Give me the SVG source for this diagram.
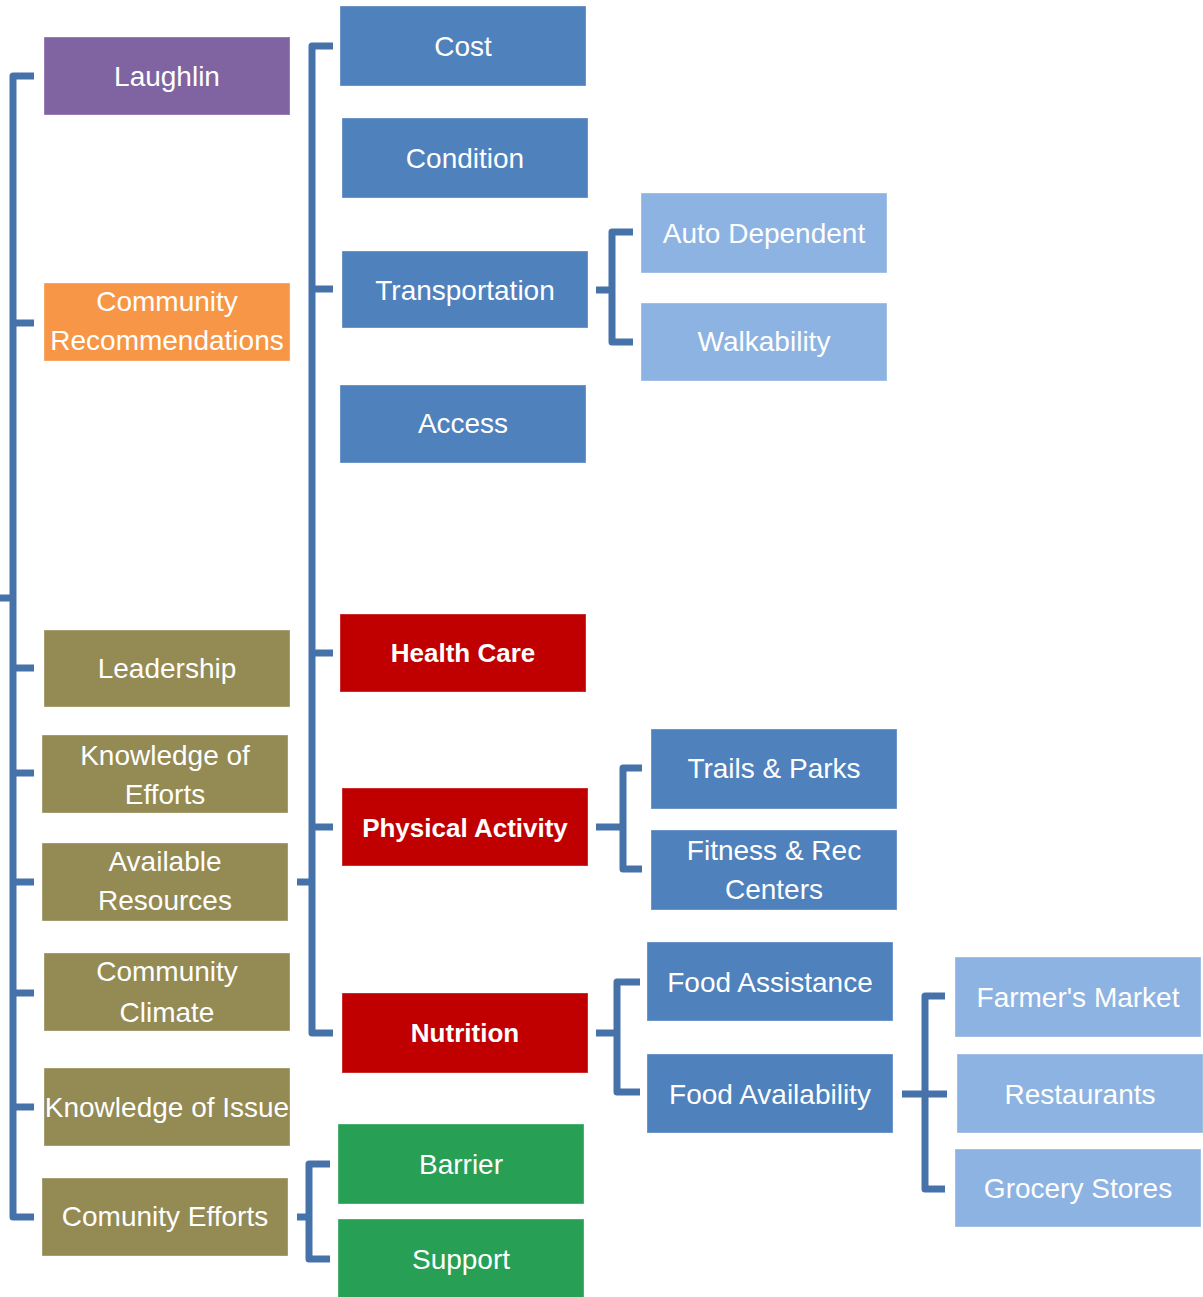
<svg xmlns="http://www.w3.org/2000/svg" width="1203" height="1297" viewBox="0 0 1203 1297">
<style>
  .box{stroke:#ffffff;stroke-opacity:0.35;stroke-width:1}
  .purple{fill:#8064A2}
  .orange{fill:#F79646}
  .olive{fill:#948A54}
  .blue{fill:#4F81BD}
  .light{fill:#8DB3E2}
  .red{fill:#C00000}
  .green{fill:#27A055}
  text{font-family:"Liberation Sans",Arial,sans-serif;font-size:28px;fill:#ffffff;text-anchor:middle}
  text.b{font-weight:bold;font-size:26px}
  .conn path{fill:none;stroke:#4672AA;stroke-width:7;stroke-linejoin:round}
</style>
<rect width="1203" height="1297" fill="#ffffff"/>
<g class="conn" id="connectors">
  <path d="M34,76 H13 V1217 H34"/>
  <path d="M13,323 H34 M13,668 H34 M13,773 H34 M13,882 H34 M13,993 H34 M13,1107 H34 M0,598 H13"/>
  <path d="M333,46 H312 V1033 H333"/>
  <path d="M312,289 H333 M312,653 H333 M312,827 H333 M297,882 H312"/>
  <path d="M596,290 H612 M633,232 H612 V342 H633"/>
  <path d="M596,827 H623 M642,768 H623 V869 H642"/>
  <path d="M596,1033 H617 M640,982 H617 V1092 H640"/>
  <path d="M902,1094 H947 M945,996 H925 V1189 H945"/>
  <path d="M297,1217 H309 M330,1164 H309 V1259 H330"/>
</g>
<g id="laughlin"><rect class="box purple" x="44" y="37" width="246" height="78"/><text x="167" y="86">Laughlin</text></g>
<g id="community-recommendations"><rect class="box orange" x="44" y="283" width="246" height="78"/><text x="167" y="311">Community</text><text x="167" y="350">Recommendations</text></g>
<g id="leadership"><rect class="box olive" x="44" y="630" width="246" height="77"/><text x="167" y="678">Leadership</text></g>
<g id="knowledge-of-efforts"><rect class="box olive" x="42" y="735" width="246" height="78"/><text x="165" y="765">Knowledge of</text><text x="165" y="804">Efforts</text></g>
<g id="available-resources"><rect class="box olive" x="42" y="843" width="246" height="78"/><text x="165" y="871">Available</text><text x="165" y="910">Resources</text></g>
<g id="community-climate"><rect class="box olive" x="44" y="953" width="246" height="78"/><text x="167" y="981">Community</text><text x="167" y="1022">Climate</text></g>
<g id="knowledge-of-issue"><rect class="box olive" x="44" y="1068" width="246" height="78"/><text x="167" y="1117">Knowledge of Issue</text></g>
<g id="comunity-efforts"><rect class="box olive" x="42" y="1178" width="246" height="78"/><text x="165" y="1226">Comunity Efforts</text></g>
<g id="cost"><rect class="box blue" x="340" y="6" width="246" height="80"/><text x="463" y="56">Cost</text></g>
<g id="condition"><rect class="box blue" x="342" y="118" width="246" height="80"/><text x="465" y="168">Condition</text></g>
<g id="transportation"><rect class="box blue" x="342" y="251" width="246" height="77"/><text x="465" y="300">Transportation</text></g>
<g id="access"><rect class="box blue" x="340" y="385" width="246" height="78"/><text x="463" y="433">Access</text></g>
<g id="health-care"><rect class="box red" x="340" y="614" width="246" height="78"/><text class="b" x="463" y="662">Health Care</text></g>
<g id="physical-activity"><rect class="box red" x="342" y="788" width="246" height="78"/><text class="b" x="465" y="837">Physical Activity</text></g>
<g id="nutrition"><rect class="box red" x="342" y="993" width="246" height="80"/><text class="b" x="465" y="1042">Nutrition</text></g>
<g id="barrier"><rect class="box green" x="338" y="1124" width="246" height="80"/><text x="461" y="1174">Barrier</text></g>
<g id="support"><rect class="box green" x="338" y="1219" width="246" height="80"/><text x="461" y="1269">Support</text></g>
<g id="auto-dependent"><rect class="box light" x="641" y="193" width="246" height="80"/><text x="764" y="243">Auto Dependent</text></g>
<g id="walkability"><rect class="box light" x="641" y="303" width="246" height="78"/><text x="764" y="351">Walkability</text></g>
<g id="trails-parks"><rect class="box blue" x="651" y="729" width="246" height="80"/><text x="774" y="778">Trails &amp; Parks</text></g>
<g id="fitness-rec-centers"><rect class="box blue" x="651" y="830" width="246" height="80"/><text x="774" y="860">Fitness &amp; Rec</text><text x="774" y="899">Centers</text></g>
<g id="food-assistance"><rect class="box blue" x="647" y="942" width="246" height="79"/><text x="770" y="992">Food Assistance</text></g>
<g id="food-availability"><rect class="box blue" x="647" y="1054" width="246" height="79"/><text x="770" y="1104">Food Availability</text></g>
<g id="farmers-market"><rect class="box light" x="955" y="957" width="246" height="80"/><text x="1078" y="1007">Farmer's Market</text></g>
<g id="restaurants"><rect class="box light" x="957" y="1054" width="246" height="79"/><text x="1080" y="1104">Restaurants</text></g>
<g id="grocery-stores"><rect class="box light" x="955" y="1149" width="246" height="78"/><text x="1078" y="1198">Grocery Stores</text></g>
</svg>
